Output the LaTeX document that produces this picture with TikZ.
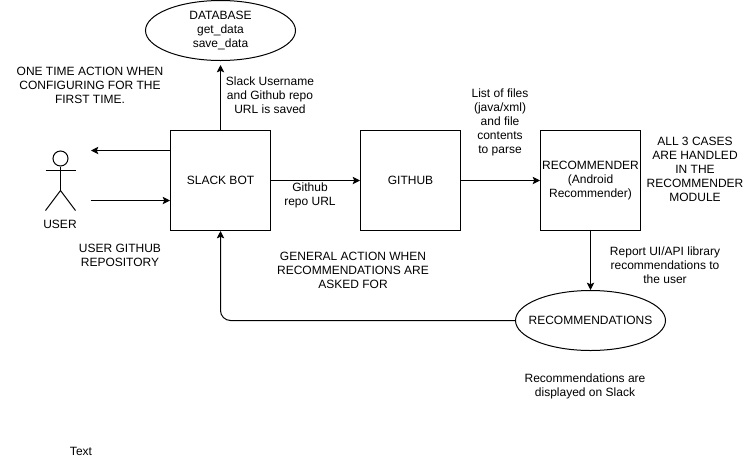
\documentclass[tikz,border=0pt]{standalone}
\usepackage{fontspec}
\setmainfont{Liberation Sans}
\usetikzlibrary{arrows.meta,positioning,shapes.geometric}

\tikzset{
  box/.style={draw, minimum size=75pt, inner sep=0pt, align=center},
  oval/.style={draw, ellipse, minimum width=112.5pt, minimum height=45pt, inner ysep=0pt, inner xsep=-12pt, align=center},
  note/.style={align=center, inner sep=0pt, font=\fontsize{9}{10.5}\selectfont},
  flow/.style={-{Stealth[length=5.5pt,width=5.5pt,inset=1.2pt]}}
}

\begin{document}
\begin{tikzpicture}[x=0.75pt,y=-0.75pt,line width=0.75pt,every node/.append style={font=\fontsize{9}{10.5}\selectfont}]
    \useasboundingbox (0,0) rectangle (745,461);

    %% main boxes
    \node[box] (slackbot) at (220.5,180.5) {SLACK BOT};
    \node[box] (github) at (410.5,180.5) {GITHUB};
    \node[box] (recommender) at (590.5,180.5) {RECOMMENDER\\(Android\\Recommender)};

    %% ellipses
    \node[oval] (database) at (220.5,30.5) {DATABASE\\get\_data\\save\_data};
    \node[oval] (recommendations) at (590.5,320.5) {RECOMMENDATIONS};

    %% user
    \node[draw, circle, minimum size=11.25pt, inner sep=0pt] (head) at (60.5,158.5) {};
    \coordinate (hip) at (60.5,190.5);
    \coordinate (armleft) at (45.5,170.5);
    \coordinate (armright) at (75.5,170.5);
    \coordinate (footleft) at (45.5,210.5);
    \coordinate (footright) at (75.5,210.5);
    \draw (head) -- (hip);
    \draw (armleft) -- (armright);
    \draw (footleft) -- (hip) -- (footright);
    \node[note] (userlabel) at (60,224.5) {USER};
    \coordinate (userin) at (91,150.5);
    \coordinate (userout) at (90.5,200.5);

    %% connectors
    \coordinate (botout) at (slackbot.west |- userin);
    \coordinate (botin) at (slackbot.west |- userout);
    \draw[flow] (botout) -- (userin);
    \draw[flow] (userout) -- (botin);
    \draw[flow, shorten >=3pt] (slackbot) -- (database);
    \draw[flow] (slackbot) -- (github);
    \draw[flow] (github) -- (recommender);
    \draw[flow] (recommender) -- (recommendations);
    \draw[flow, rounded corners=7.5pt] (recommendations.west) -| (slackbot.south);

    %% labels
    \node[note] (onetime) at (90,85.5) {ONE TIME ACTION WHEN\\CONFIGURING FOR THE\\FIRST TIME.};
    \node[note] (repo) at (120,255.5) {USER GITHUB\\REPOSITORY};
    \node[note] (saved) at (270,95.5) {Slack Username\\and Github repo\\URL is saved};
    \node[note] (repourl) at (310,195.5) {Github\\repo URL};
    \node[note] (general) at (353,270.5) {GENERAL ACTION WHEN\\RECOMMENDATIONS ARE\\ASKED FOR};
    \node[note] (files) at (500,122) {List of files\\(java/xml)\\and file\\contents\\to parse};
    \node[note] (cases) at (695,169.5) {ALL 3 CASES\\ARE HANDLED\\IN THE\\RECOMMENDER\\MODULE};
    \node[note] (report) at (665,265.5) {Report UI/API library\\recommendations to\\the user};
    \node[note] (displayed) at (585,386) {Recommendations are\\displayed on Slack};
    \node[note] (text) at (81,451) {Text};
\end{tikzpicture}
\end{document}
